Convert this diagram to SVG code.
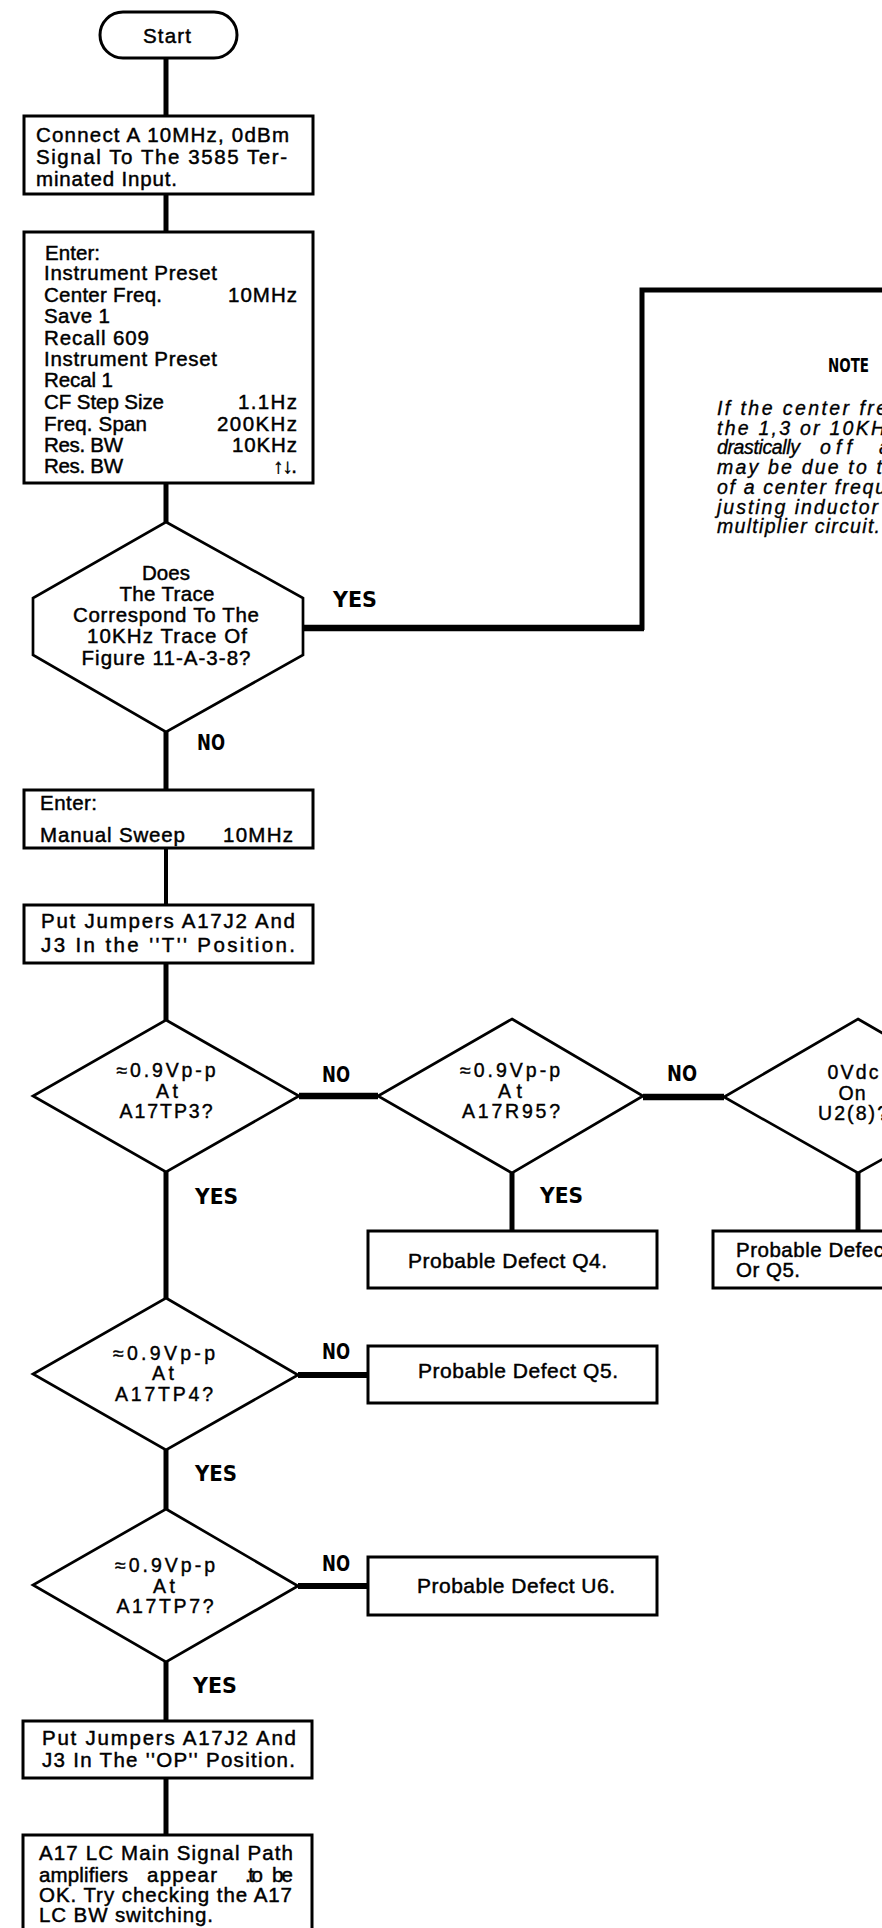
<svg xmlns="http://www.w3.org/2000/svg" width="882" height="1928" viewBox="0 0 882 1928">
<style>
.bx{fill:#fff;stroke:#000;stroke-width:3}
.dm{fill:#fff;stroke:#000;stroke-width:2.7;stroke-linejoin:miter}
.t{font-family:"Liberation Sans",Arial,sans-serif;font-size:20.5px;fill:#000;stroke:#000;stroke-width:0.45}
.d{font-family:"Liberation Sans",Arial,sans-serif;font-size:19.5px;fill:#000;stroke:#000;stroke-width:0.4;text-anchor:middle}
.c{text-anchor:middle}
.e{text-anchor:end}
.lb{font-family:"DejaVu Sans Condensed","DejaVu Sans",sans-serif;font-stretch:condensed;font-weight:bold;font-size:22px;fill:#000}
.it{font-family:"Liberation Sans",Arial,sans-serif;font-style:italic;font-size:19.5px;fill:#000;stroke:#000;stroke-width:0.35}
.ln{fill:none;stroke:#000;stroke-width:5}
.lh{fill:none;stroke:#000;stroke-width:6.5}
</style>
<rect width="882" height="1928" fill="#fff"/>
<g id="connectors">
<path class="ln" d="M166,58V116"/>
<path class="ln" d="M166,194V232"/>
<path class="ln" d="M166,483V522"/>
<path class="lh" d="M303,628H644"/>
<path class="ln" d="M166,732V790"/>
<path class="ln" d="M166,848V905" style="stroke-width:4"/>
<path class="ln" d="M166,963V1020"/>
<path class="lh" d="M299,1096H378"/>
<path class="lh" d="M643,1097H724"/>
<path class="ln" d="M512,1173V1231"/>
<path class="ln" d="M858,1173V1231"/>
<path class="ln" d="M166,1172V1298"/>
<path class="lh" d="M298,1375H368" style="stroke-width:6"/>
<path class="ln" d="M166,1450V1509"/>
<path class="lh" d="M298,1586H368" style="stroke-width:6"/>
<path class="ln" d="M166,1662V1721"/>
<path class="ln" d="M166,1778V1835"/>
</g>
<g id="labels">
<text class="lb" x="333" y="607" textLength="44" lengthAdjust="spacingAndGlyphs">YES</text>
<text class="lb" x="197" y="750" textLength="28" lengthAdjust="spacingAndGlyphs">NO</text>
<text class="lb" x="322" y="1082" textLength="28" lengthAdjust="spacingAndGlyphs">NO</text>
<text class="lb" x="667" y="1081" textLength="30" lengthAdjust="spacingAndGlyphs">NO</text>
<text class="lb" x="195" y="1204" textLength="43" lengthAdjust="spacingAndGlyphs">YES</text>
<text class="lb" x="540" y="1203" textLength="43" lengthAdjust="spacingAndGlyphs">YES</text>
<text class="lb" x="322" y="1359" textLength="28" lengthAdjust="spacingAndGlyphs">NO</text>
<text class="lb" x="195" y="1481" textLength="42" lengthAdjust="spacingAndGlyphs">YES</text>
<text class="lb" x="322" y="1571" textLength="28" lengthAdjust="spacingAndGlyphs">NO</text>
<text class="lb" x="193" y="1693" textLength="44" lengthAdjust="spacingAndGlyphs">YES</text>
</g>
<g id="start">
<rect class="bx" x="100" y="12" width="137" height="46" rx="23"/>
<text class="t c" x="167" y="43" textLength="48">Start</text>
</g>
<g id="connect">
<rect class="bx" x="24" y="116" width="289" height="78"/>
<text class="t" x="36" y="142" textLength="253">Connect A 10MHz, 0dBm</text>
<text class="t" x="36" y="164" textLength="251">Signal To The 3585 Ter-</text>
<text class="t" x="36" y="186" textLength="141">minated Input.</text>
</g>
<g id="enter1">
<rect class="bx" x="24" y="232" width="289" height="251"/>
<text class="t" x="45" y="260" textLength="55">Enter:</text>
<text class="t" x="44" y="280" textLength="173">Instrument Preset</text>
<text class="t" x="44" y="302" textLength="118">Center Freq.</text>
<text class="t e" x="297" y="302" textLength="69">10MHz</text>
<text class="t" x="44" y="323" textLength="66">Save 1</text>
<text class="t" x="44" y="345" textLength="105">Recall 609</text>
<text class="t" x="44" y="366" textLength="173">Instrument Preset</text>
<text class="t" x="44" y="387" textLength="69">Recal 1</text>
<text class="t" x="44" y="409" textLength="120">CF Step Size</text>
<text class="t e" x="297" y="409" textLength="59">1.1Hz</text>
<text class="t" x="44" y="431" textLength="103">Freq. Span</text>
<text class="t e" x="297" y="431" textLength="80">200KHz</text>
<text class="t" x="44" y="452" textLength="79">Res. BW</text>
<text class="t e" x="297" y="452" textLength="65">10KHz</text>
<text class="t" x="44" y="473" textLength="79">Res. BW</text>
<text class="t e" x="297" y="473" textLength="24">↑↓.</text>
</g>
<g id="trace-decision">
<polygon class="dm" points="166,522 303,598 303,655 166,732 33,655 33,598"/>
<text class="t c" x="166" y="580" textLength="48">Does</text>
<text class="t c" x="167" y="601" textLength="95">The Trace</text>
<text class="t c" x="166" y="622" textLength="186">Correspond To The</text>
<text class="t c" x="167" y="643" textLength="160">10KHz Trace Of</text>
<text class="t c" x="166" y="665" textLength="169">Figure 11-A-3-8?</text>
</g>
<g id="note">
<path d="M642,630V290H886" fill="none" stroke="#000" stroke-width="5"/>
<text class="lb" x="828" y="372" textLength="41" lengthAdjust="spacingAndGlyphs" style="font-size:20px">NOTE</text>
<text class="it" x="717" y="415" textLength="170">If the center fre</text>
<text class="it" x="717" y="435" textLength="168">the 1,3 or 10KH</text>
<text class="it" y="454"><tspan x="717" textLength="83">drastically</tspan><tspan x="820" textLength="32">off</tspan><tspan x="879">a</tspan></text>
<text class="it" x="717" y="474" textLength="165">may be due to t</text>
<text class="it" x="717" y="494" textLength="169">of a center frequ</text>
<text class="it" x="717" y="514" textLength="161">justing inductor</text>
<text class="it" x="717" y="533" textLength="163">multiplier circuit.</text>
</g>
<g id="enter2">
<rect class="bx" x="24" y="790" width="289" height="58"/>
<text class="t" x="40" y="810" textLength="57">Enter:</text>
<text class="t" x="40" y="842" textLength="145">Manual Sweep</text>
<text class="t e" x="293" y="842" textLength="70">10MHz</text>
</g>
<g id="jumpers-t">
<rect class="bx" x="24" y="905" width="289" height="58"/>
<text class="t" x="41" y="928" textLength="254">Put Jumpers A17J2 And</text>
<text class="t" x="41" y="952" textLength="254">J3 In the ''T'' Position.</text>
</g>
<g id="tp3">
<polygon class="dm" points="166,1020 299,1096 166,1172 33,1096"/>
<text class="d" x="166" y="1077" textLength="99">≈0.9Vp-p</text>
<text class="d" x="167" y="1098" textLength="22">At</text>
<text class="d" x="166" y="1118" textLength="93">A17TP3?</text>
</g>
<g id="r95">
<polygon class="dm" points="512,1019 643,1096 512,1173 378,1096"/>
<text class="d" x="510" y="1077" textLength="100">≈0.9Vp-p</text>
<text class="d" x="510" y="1098" textLength="24">At</text>
<text class="d" x="511" y="1118" textLength="98">A17R95?</text>
</g>
<g id="u2">
<polygon class="dm" points="858,1019 993,1097 858,1173 724,1097"/>
<text class="d" x="853" y="1079" textLength="51">0Vdc</text>
<text class="d" x="852" y="1100" textLength="27">On</text>
<text class="d" x="853" y="1120" textLength="70">U2(8)?</text>
</g>
<g id="q4">
<rect class="bx" x="368" y="1231" width="289" height="57"/>
<text class="t" x="408" y="1268" textLength="199" style="font-size:21px">Probable Defect Q4.</text>
</g>
<g id="u2-q5">
<rect class="bx" x="713" y="1231" width="200" height="57"/>
<text class="t" x="736" y="1257" textLength="148">Probable Defec</text>
<text class="t" x="736" y="1277" textLength="64">Or Q5.</text>
</g>
<g id="tp4">
<polygon class="dm" points="166,1298 298,1375 166,1450 33,1374"/>
<text class="d" x="164" y="1360" textLength="102">≈0.9Vp-p</text>
<text class="d" x="163" y="1380" textLength="22">At</text>
<text class="d" x="164" y="1401" textLength="98">A17TP4?</text>
</g>
<g id="q5">
<rect class="bx" x="368" y="1346" width="289" height="57"/>
<text class="t" x="418" y="1378" textLength="200" style="font-size:21px">Probable Defect Q5.</text>
</g>
<g id="tp7">
<polygon class="dm" points="166,1509 298,1586 166,1662 33,1585"/>
<text class="d" x="165" y="1572" textLength="100">≈0.9Vp-p</text>
<text class="d" x="164" y="1593" textLength="22">At</text>
<text class="d" x="165" y="1613" textLength="97">A17TP7?</text>
</g>
<g id="u6">
<rect class="bx" x="368" y="1557" width="289" height="58"/>
<text class="t" x="417" y="1593" textLength="198" style="font-size:21px">Probable Defect U6.</text>
</g>
<g id="jumpers-op">
<rect class="bx" x="23" y="1721" width="289" height="57"/>
<text class="t" x="42" y="1745" textLength="254">Put Jumpers A17J2 And</text>
<text class="t" x="42" y="1767" textLength="253">J3 In The ''OP'' Position.</text>
</g>
<g id="result">
<rect class="bx" x="23" y="1835" width="289" height="110"/>
<text class="t" x="39" y="1860" textLength="254">A17 LC Main Signal Path</text>
<text class="t" y="1882"><tspan x="39" textLength="89">amplifiers</tspan><tspan x="147" textLength="70">appear</tspan><tspan x="245" textLength="18">.to</tspan><tspan x="272" textLength="21">be</tspan></text>
<text class="t" x="39" y="1902" textLength="253">OK. Try checking the A17</text>
<text class="t" x="39" y="1922" textLength="174">LC BW switching.</text>
</g>
</svg>
